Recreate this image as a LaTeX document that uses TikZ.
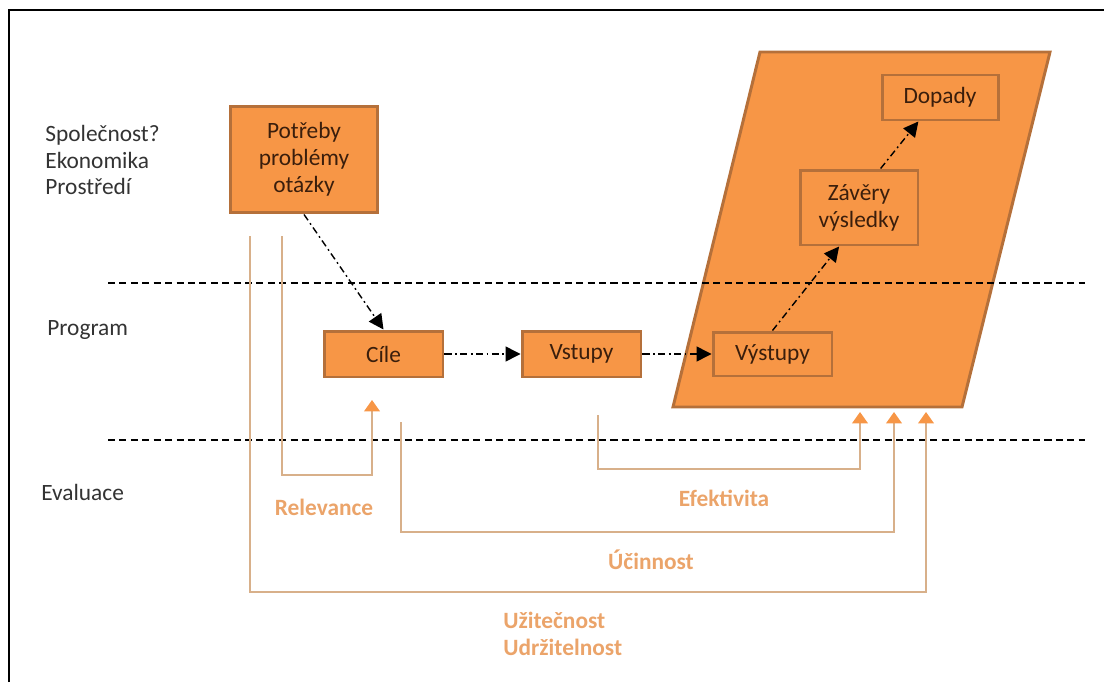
\documentclass[tikz,border=0pt]{standalone}
\usepackage{fontspec}
\setmainfont{Carlito}
\usetikzlibrary{arrows.meta}
\definecolor{boxfill}{HTML}{F79646}
\definecolor{boxline}{HTML}{B5703A}
\definecolor{boxtext}{HTML}{3A1E0C}
\definecolor{evtext}{HTML}{EBA46A}
\definecolor{evline}{HTML}{D8B08A}
\tikzstyle{orbox} = [draw=boxline, line width=1.7pt, rectangle, fill=boxfill, text=boxtext, align=center, inner sep=0pt]
\tikzstyle{flow} = [draw=black, line width=0.8pt, dash pattern=on 4pt off 2pt on 1pt off 2pt, -{Triangle[length=8.5pt,width=8.5pt]}]
\tikzstyle{evalline} = [draw=evline, line width=0.8pt, -{Triangle[length=6.5pt,width=9pt,color=boxfill]}]
\tikzstyle{evlabel} = [text=evtext, font=\fontsize{13.3}{15.3}\selectfont\bfseries, inner sep=0pt]
\tikzstyle{sidelabel} = [text=black!80, align=left, anchor=west, inner sep=0pt]
\tikzstyle{sepline} = [draw=black, line width=0.7pt, dash pattern=on 4pt off 2.5pt]

\begin{document}
\begin{tikzpicture}[x=0.02cm, y=-0.02cm, font=\fontsize{13.3}{15.3}\selectfont]
    \useasboundingbox (0,0) rectangle (1104,682);
    \draw[line width=1.2pt] (9,682) -- (9,10) -- (1104,10);

    \node[sidelabel] (spolecnost) at (45,160) {Společnost?\\Ekonomika\\Prostředí};
    \node[sidelabel] (program) at (47,330) {Program};
    \node[sidelabel] (evaluace) at (41,492) {Evaluace};

    \draw[draw=boxline, line width=1.7pt, fill=boxfill] (760,52) -- (1050,52) -- (962,407) -- (673,407) -- cycle;

    \draw[sepline] (108,283) -- (1085,283);
    \draw[sepline] (108,440) -- (1085,440);

    \node[orbox, minimum width=2.96cm, minimum height=2.14cm] (potreby) at (304,159.5) {Potřeby\\problémy\\otázky};
    \node[orbox, minimum width=2.38cm, minimum height=0.92cm] (cile) at (383.5,354) {Cíle};
    \node[orbox, minimum width=2.38cm, minimum height=0.92cm] (vstupy) at (581.5,354) {Vstupy};
    \node[orbox, minimum width=2.38cm, minimum height=0.88cm] (vystupy) at (772.5,354) {Výstupy};
    \node[orbox, minimum width=2.36cm, minimum height=1.5cm] (zavery) at (859,207.5) {Závěry\\výsledky};
    \node[orbox, minimum width=2.32cm, minimum height=0.9cm] (dopady) at (940,97.5) {Dopady};

    \draw[flow] (potreby.south) -- (cile.north);
    \draw[flow] (cile.east) -- (vstupy.west);
    \draw[flow] (vstupy.east) -- (vystupy.west);
    \draw[flow] (vystupy.north) -- (zavery.243);
    \draw[flow] (zavery.61) -- (dopady.228);

    \coordinate (u0) at (250,236);
    \coordinate (u1) at (926,412);
    \coordinate (r0) at (282,236);
    \coordinate (r1) at (372,400);
    \coordinate (c0) at (401,422);
    \coordinate (c1) at (894,412);
    \coordinate (e0) at (598,415);
    \coordinate (e1) at (860,412);
    \draw[evalline] (u0) -- ++(0,356) -| (u1);
    \draw[evalline] (r0) -- ++(0,239) -| (r1);
    \draw[evalline] (c0) -- ++(0,110) -| (c1);
    \draw[evalline] (e0) -- ++(0,54) -| (e1);

    \node[evlabel] (relevance) at (324,507) {Relevance};
    \node[evlabel] (efektivita) at (724,498) {Efektivita};
    \node[evlabel] (ucinnost) at (651,560) {Účinnost};
    \node[evlabel, align=left, anchor=west] (uzitecnost) at (503,633.5) {Užitečnost\\Udržitelnost};
\end{tikzpicture}
\end{document}
